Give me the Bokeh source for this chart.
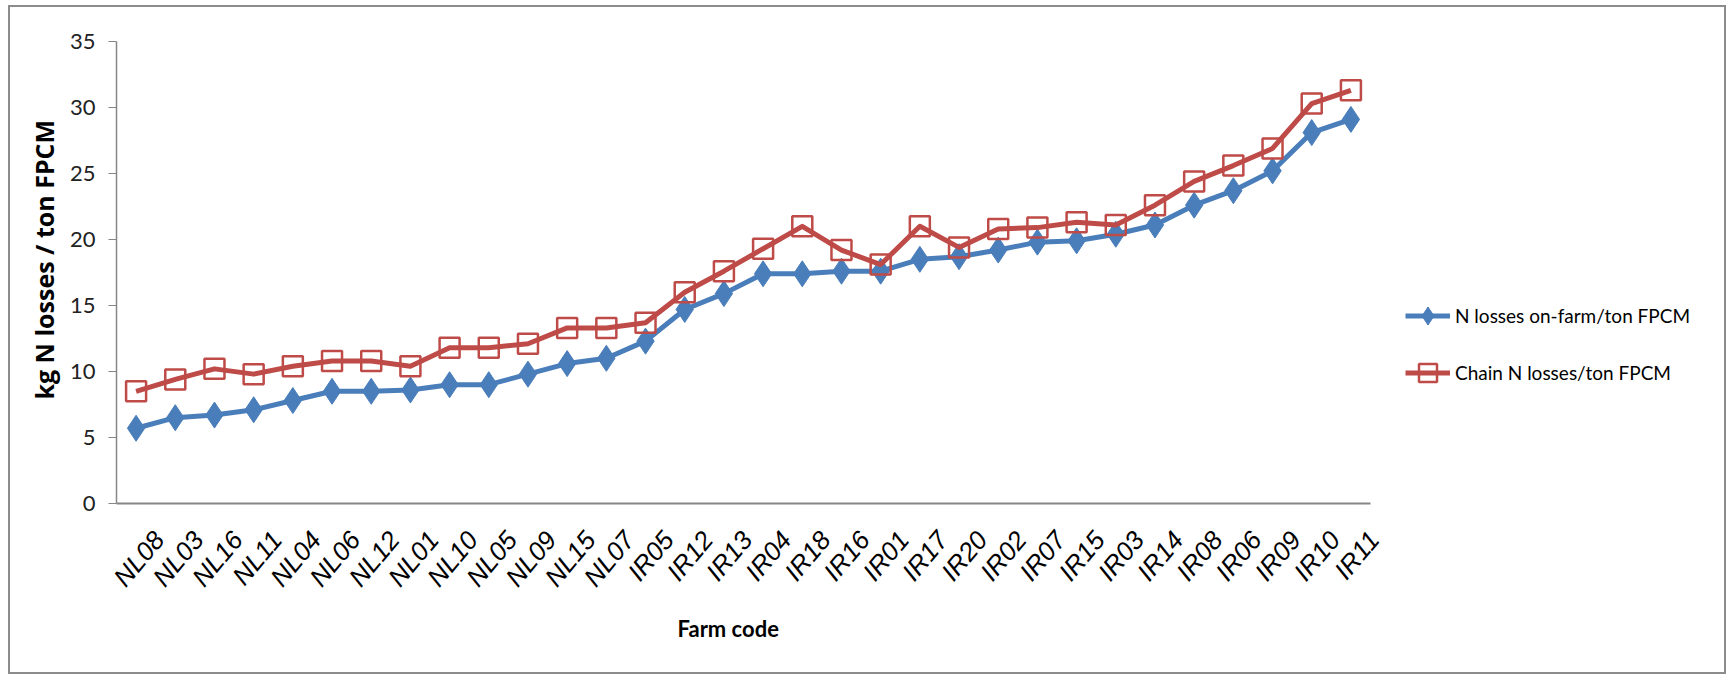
from bokeh.plotting import figure
from bokeh.models import Range1d, FixedTicker, Legend, LegendItem, CustomJSTickFormatter, Title
from bokeh.embed import file_html
from bokeh.resources import INLINE

farms = ["NL08", "NL03", "NL16", "NL11", "NL04", "NL06", "NL12", "NL01", "NL10", "NL05",
         "NL09", "NL15", "NL07", "IR05", "IR12", "IR13", "IR04", "IR18", "IR16", "IR01",
         "IR17", "IR20", "IR02", "IR07", "IR15", "IR03", "IR14", "IR08", "IR06", "IR09",
         "IR10", "IR11"]
onfarm = [5.7, 6.5, 6.7, 7.1, 7.8, 8.5, 8.5, 8.6, 9.0, 9.0,
          9.8, 10.6, 11.0, 12.3, 14.7, 15.9, 17.4, 17.4, 17.6, 17.6,
          18.5, 18.7, 19.2, 19.8, 19.9, 20.4, 21.1, 22.6, 23.7, 25.2,
          28.1, 29.1]
chain = [8.5, 9.4, 10.2, 9.8, 10.4, 10.8, 10.8, 10.4, 11.8, 11.8,
         12.1, 13.3, 13.3, 13.7, 16.0, 17.6, 19.3, 21.0, 19.2, 18.1,
         21.0, 19.4, 20.8, 20.9, 21.3, 21.1, 22.6, 24.4, 25.6, 26.9,
         30.3, 31.3]
y_ticks = [0, 5, 10, 15, 20, 25, 30, 35]

BLUE = "#4A7EBB"
RED = "#BE4B48"
AXIS = "#868686"

# category slots: each farm occupies one unit, centred at i + 0.5
n = len(farms)
xpos = [i + 0.5 for i in range(n)]
PLOT_W, PLOT_H = 1718, 669
LEFT, TOP, BOTTOM = 106, 34, 173
FRAME_W = PLOT_W - LEFT
AXIS_W = 1254  # pixel width of the category axis
slot_px = AXIS_W / n
x_end = n * FRAME_W / AXIS_W

p = figure(x_range=Range1d(0, x_end), y_range=Range1d(0, 35),
           width=PLOT_W, height=PLOT_H, output_backend="svg", toolbar_location=None,
           min_border_left=LEFT, min_border_right=0, min_border_top=TOP, min_border_bottom=BOTTOM)
p.margin = (5, 0, 0, 8)
p.styles = {"border": "2px solid #8c8c8c"}
p.grid.visible = False
p.outline_line_color = None

l1 = p.line(xpos, onfarm, line_color=BLUE, line_width=5, line_join="round")
s1 = p.scatter(xpos, onfarm, marker="diamond", size=26, fill_color=BLUE, line_color=BLUE)
l2 = p.line(xpos, chain, line_color=RED, line_width=5, line_join="round")
s2 = p.scatter(xpos, chain, marker="square", size=20, fill_color=None, line_color=RED, line_width=2.5)

legend = Legend(items=[LegendItem(label="N losses on-farm/ton FPCM", renderers=[l1, s1]),
                       LegendItem(label="Chain N losses/ton FPCM", renderers=[l2, s2])],
                location=(1289, 108), glyph_width=45, glyph_height=45, spacing=12,
                padding=0, margin=0, label_standoff=5,
                border_line_color=None,
                background_fill_alpha=0, label_text_font="Lato",
                label_text_font_size="19px", label_text_color="#000000")
p.add_layout(legend)

ya = p.yaxis[0]
ya.ticker = FixedTicker(ticks=y_ticks)
ya.minor_tick_line_color = None
ya.major_tick_in = 0
ya.major_tick_out = 8
ya.major_tick_line_color = AXIS
ya.axis_line_color = AXIS
ya.axis_line_width = 1.5
ya.major_label_standoff = 13
ya.major_label_text_font = "Lato"
ya.major_label_text_font_size = "22px"
ya.major_label_text_color = "#222222"

xa = p.xaxis[0]
xa.ticker = FixedTicker(ticks=xpos)
xa.bounds = (-8 / slot_px, n)
xa.formatter = CustomJSTickFormatter(args=dict(names=farms),
                                     code="return '\\n\\n' + names[Math.round(tick - 0.5)]")
xa.major_tick_line_color = None
xa.major_tick_out = 0
xa.major_tick_in = 0
xa.minor_tick_line_color = None
xa.axis_line_color = AXIS
xa.axis_line_width = 2
xa.major_label_orientation = 0.87
xa.major_label_standoff = 12
xa.major_label_text_line_height = 1.0
xa.major_label_text_font = "Liberation Sans"
xa.major_label_text_font_style = "italic"
xa.major_label_text_font_size = "26px"
xa.major_label_text_color = "#000000"

# axis titles, placed off-centre as in the reference
x_title = Title(text="Farm code", align="left", offset=561, standoff=-24,
                text_font="Lato", text_font_style="bold", text_font_size="22px",
                text_color="#000000")
p.add_layout(x_title, "below")
y_title = Title(text="kg N losses / ton FPCM", align="left", offset=104, standoff=12,
                text_font="Open Sans", text_font_style="bold", text_font_size="25px",
                text_color="#000000")
p.add_layout(y_title, "left")

open("out.html", "w").write(file_html(p, INLINE))
